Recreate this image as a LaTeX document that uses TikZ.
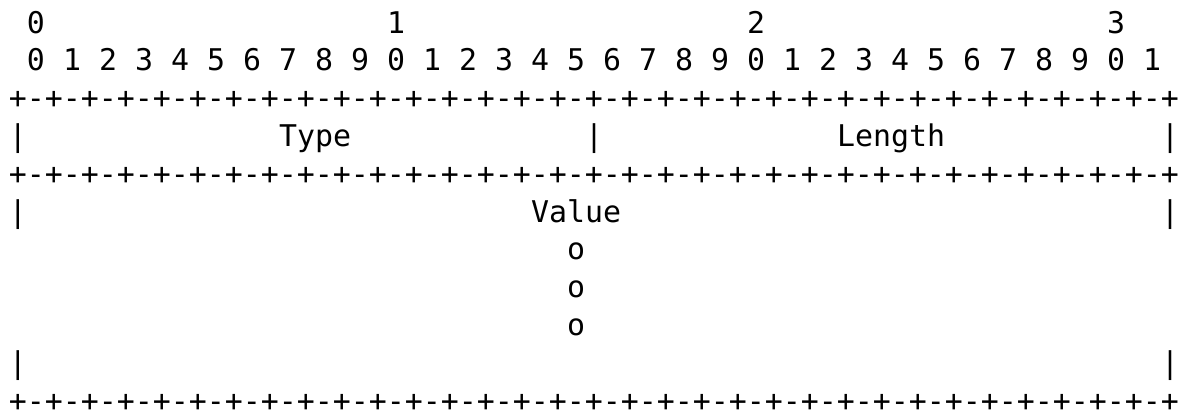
\documentclass[tikz,border=0pt]{standalone}
\usepackage{fontspec}
\newfontfamily\monofam{DejaVu Sans Mono}
\begin{document}
\begin{tikzpicture}[x=1pt,y=-1pt,
  txt/.style={anchor=base west,inner sep=0pt,outer sep=0pt,font=\monofam\fontsize{29.9pt}{37.8pt}\selectfont}]
\useasboundingbox (0,0) rectangle (1183,410);
\def\cw{18}
\def\xo{9}
\def\lp{37.8}
\def\yo{33}
% row 0: decade numbers
\foreach \c/\t/\n in {1/0/da,21/1/db,41/2/dc,61/3/dd}
  \node[txt] (\n) at ({\xo+\cw*\c},{\yo}) {\t};
% row 1: bit numbers
\foreach \i in {0,...,31}{
  \pgfmathtruncatemacro\dg{mod(\i,10)}
  \node[txt] (b\i) at ({\xo+\cw*(1+2*\i)},{\yo+\lp}) {\dg};
}
% separator rows
\def\sep{+-+-+-+-+-+-+-+-+-+-+-+-+-+-+-+-+-+-+-+-+-+-+-+-+-+-+-+-+-+-+-+-+}
\node[txt] (sepa) at ({\xo},{\yo+2*\lp}) {\sep};
\node[txt] (sepb) at ({\xo},{\yo+4*\lp}) {\sep};
\node[txt] (sepc) at ({\xo},{\yo+10*\lp}) {\sep};
% row 3: Type / Length
\node[txt] (v3a) at ({\xo},{\yo+3*\lp}) {|};
\node[txt] (type) at ({\xo+\cw*15},{\yo+3*\lp}) {Type};
\node[txt] (v3b) at ({\xo+\cw*32},{\yo+3*\lp}) {|};
\node[txt] (length) at ({\xo+\cw*46},{\yo+3*\lp}) {Length};
\node[txt] (v3c) at ({\xo+\cw*64},{\yo+3*\lp}) {|};
% row 5: Value
\node[txt] (v5a) at ({\xo},{\yo+5*\lp}) {|};
\node[txt] (value) at ({\xo+\cw*29},{\yo+5*\lp}) {Value};
\node[txt] (v5b) at ({\xo+\cw*64},{\yo+5*\lp}) {|};
% rows 6-8: o o o
\foreach \r in {6,7,8}
  \node[txt] (o\r) at ({\xo+\cw*31},{\yo+\r*\lp}) {o};
% row 9
\node[txt] (v9a) at ({\xo},{\yo+9*\lp}) {|};
\node[txt] (v9b) at ({\xo+\cw*64},{\yo+9*\lp}) {|};
\end{tikzpicture}
\end{document}
